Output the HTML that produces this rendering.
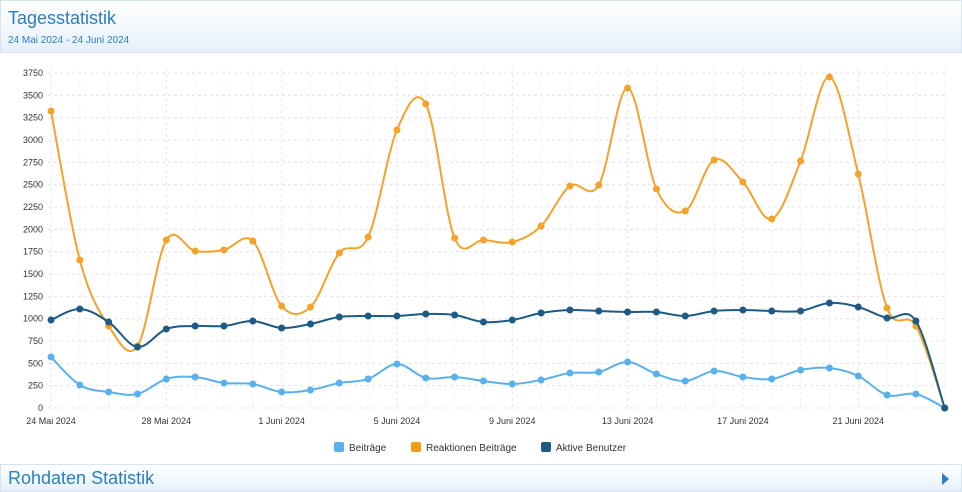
<!DOCTYPE html>
<html><head><meta charset="utf-8"><style>
body{margin:0;width:962px;height:487px;overflow:hidden;background:#fff;font-family:"Liberation Sans",Arial,sans-serif}
.hdr{position:absolute;left:0;top:0;width:960px;height:51px;border:1px solid #d6e4f0;background:linear-gradient(#fff,#e6f0fa)}
.t{position:absolute;left:7px;top:7px;font-size:18px;color:#2a7fc1}
.s{position:absolute;left:7px;top:34px;font-size:10px;color:#2a7fc1}
.ft{position:absolute;left:0;top:464px;width:960px;height:26px;border:1px solid #d6e4f0;background:linear-gradient(#fff,#e6f0fa)}
.ft span{position:absolute;left:7px;top:3px;font-size:18px;color:#2a7fc1}
.tri{position:absolute;right:12px;top:8px;width:0;height:0;border-left:7px solid #2a7fc1;border-top:6px solid transparent;border-bottom:6px solid transparent}
</style></head><body>
<div class="hdr"><div class="t">Tagesstatistik</div><div class="s">24 Mai 2024 - 24 Juni 2024</div></div>
<svg id="c" width="962" height="487" style="position:absolute;left:0;top:0" font-family="Liberation Sans,Arial,sans-serif"></svg>
<div class="ft"><span>Rohdaten Statistik</span><div class="tri"></div></div>
<script>
var s='',x0=51,dx=28.83;
for(var i=0;i<=15;i++){var y=408-i*22.33;s+='<line x1="48" x2="948" y1="'+y+'" y2="'+y+'" stroke="#e4e4e4" stroke-dasharray="3,3"/>';s+='<text x="43" y="'+(y+3)+'" font-size="9" text-anchor="end" fill="#333">'+(i*250)+'</text>';}
var lb=['24 Mai 2024','28 Mai 2024','1 Juni 2024','5 Juni 2024','9 Juni 2024','13 Juni 2024','17 Juni 2024','21 Juni 2024'];
for(var i=0;i<8;i++){var x=x0+i*4*dx;s+='<line x1="'+x+'" x2="'+x+'" y1="68" y2="408" stroke="#e4e4e4" stroke-dasharray="3,3"/><text x="'+x+'" y="424" font-size="9" text-anchor="middle" fill="#333">'+lb[i]+'</text>';}
for(var i=1;i<32;i++){if(i%4){var x=x0+i*dx;s+='<line x1="'+x+'" x2="'+x+'" y1="68" y2="408" stroke="#f0f0f0" stroke-dasharray="3,3"/>';}}
var L=[357,385,392,394,379,377,383,384,392,390,383,379,364,378,377,381,384,380,373,372,362,374,381,371,377,379,370,368,376,395,394,408];
var O=[111,260,326,346,240,251,250,241,306,307,253,237,130,104,238,240,242,226,186,185,88,189,211,160,182,219,161,77,174,308,326,408];
var D=[320,309,322,347,329,326,326,321,328,324,317,316,316,314,315,322,320,313,310,311,312,312,316,311,310,311,311,303,307,318,321,408];
function path(a,c){var p=a.map(function(y,i){return[x0+i*dx,y]});var d='M'+p[0];for(var i=0;i<p.length-1;i++){var p0=p[i?i-1:0],p1=p[i],p2=p[i+1],p3=p[i+2<p.length?i+2:i+1];var t=0.17;d+='C'+(p1[0]+(p2[0]-p0[0])*t)+','+(p1[1]+(p2[1]-p0[1])*t)+' '+(p2[0]-(p3[0]-p1[0])*t)+','+(p2[1]-(p3[1]-p1[1])*t)+' '+p2;}
var r='<path d="'+d+'" fill="none" stroke="'+c+'" stroke-width="2"/>';p.forEach(function(q){r+='<circle cx="'+q[0]+'" cy="'+q[1]+'" r="3.5" fill="'+c+'"/>'});return r;}
s+=path(L,'#5ab0ea')+path(O,'#f3a22b')+path(D,'#1d5a85');
var lg=[[334,'#5ab0ea','Beiträge'],[411,'#f39c12','Reaktionen Beiträge'],[541,'#1d5a85','Aktive Benutzer']];
lg.forEach(function(g){s+='<rect x="'+g[0]+'" y="442" width="10" height="10" rx="2" fill="'+g[1]+'"/><text x="'+(g[0]+15)+'" y="451" font-size="10" fill="#333">'+g[2]+'</text>'});
document.getElementById('c').innerHTML=s;
</script>
</body></html>
